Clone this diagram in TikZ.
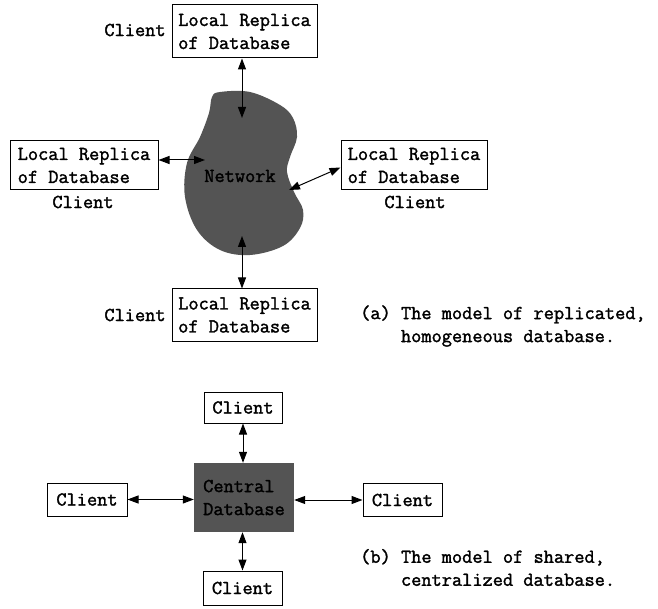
\documentclass[tikz,border=0pt]{standalone}
\usepackage{fontspec}
\newfontfamily\courtt{Latin Modern Mono}[FakeBold=1.6]
\usetikzlibrary{arrows.meta, positioning}

\tikzset{
  txt/.style={font=\courtt\fontsize{19.8}{23}\selectfont, inner sep=0pt},
  replica/.style={txt, draw, line width=1pt, align=left},
  client/.style={txt, draw, line width=1pt},
  link/.style={line width=1pt, {Triangle[length=11pt,width=8pt]}-{Triangle[length=11pt,width=8pt]}},
}

\begin{document}
\begin{tikzpicture}[x=1pt, y=-1pt]
\useasboundingbox (0,0) rectangle (658,609);

% replicated model: network cloud
\fill[black!67] plot[smooth cycle, tension=0.6] coordinates {
  (220,92) (250,92) (280,105) (293,118) (297,137) (290,157) (287,172)
  (294,192) (303,210) (300,228) (283,246) (250,255) (220,250) (197,230)
  (185,197) (187,163) (200,137) (209,113) (212,97)};
\node[txt] (net) at (240,176) {Network};

\node[replica, minimum width=145pt, minimum height=53pt] (top) at (244.5,31.5) {Local Replica\\of Database};
\node[replica, minimum width=148pt, minimum height=49pt] (left) at (84,165.5) {Local Replica\\of Database};
\node[replica, minimum width=146pt, minimum height=49pt] (right) at (414,165.5) {Local Replica\\of Database};
\node[replica, minimum width=145pt, minimum height=52pt] (bottom) at (244.5,315) {Local Replica\\of Database};

\node[txt] (ctop) at (135,30) {Client};
\node[txt] (cleft) at (83,202) {Client};
\node[txt] (cright) at (415,202) {Client};
\node[txt] (cbottom) at (135,315) {Client};

\coordinate (ntop) at (242,118);
\coordinate (nleft) at (205,160);
\coordinate (nright) at (289,190);
\coordinate (nbottom) at (242,236);

\draw[link] (top.south -| ntop) -- (ntop);
\draw[link] (left.east |- nleft) -- (nleft);
\draw[link] (right.west) ++(0,2) coordinate (rw) (rw) -- (nright);
\draw[link] (nbottom) -- (bottom.north -| nbottom);

\node[txt, align=left, anchor=west] (capa) at (360,326) {(a) The model of replicated,\\\hphantom{(a)\ }homogeneous database.};

% shared model: one central database
\node[txt, fill=black!67, align=left, minimum width=100pt, minimum height=69pt] (central) at (244,497.5) {Central\\Database};
\node[client, minimum width=78pt, minimum height=31pt] (btop) at (243,407.5) {Client};
\node[client, minimum width=80pt, minimum height=33pt] (bleft) at (87,499.5) {Client};
\node[client, minimum width=79pt, minimum height=33pt] (bright) at (402.5,500) {Client};
\node[client, minimum width=79pt, minimum height=34pt] (bbottom) at (242.5,588) {Client};

\draw[link] (btop.south) -- (btop.south |- central.north);
\draw[link] (bleft.east) -- (bleft.east -| central.west);
\draw[link] (central.east |- bright.west) -- (bright.west);
\draw[link] (bbottom.north) -- (bbottom.north |- central.south);

\node[txt, align=left, anchor=west] (capb) at (360,567.5) {(b) The model of shared,\\\hphantom{(b)\ }centralized database.};
\end{tikzpicture}
\end{document}
